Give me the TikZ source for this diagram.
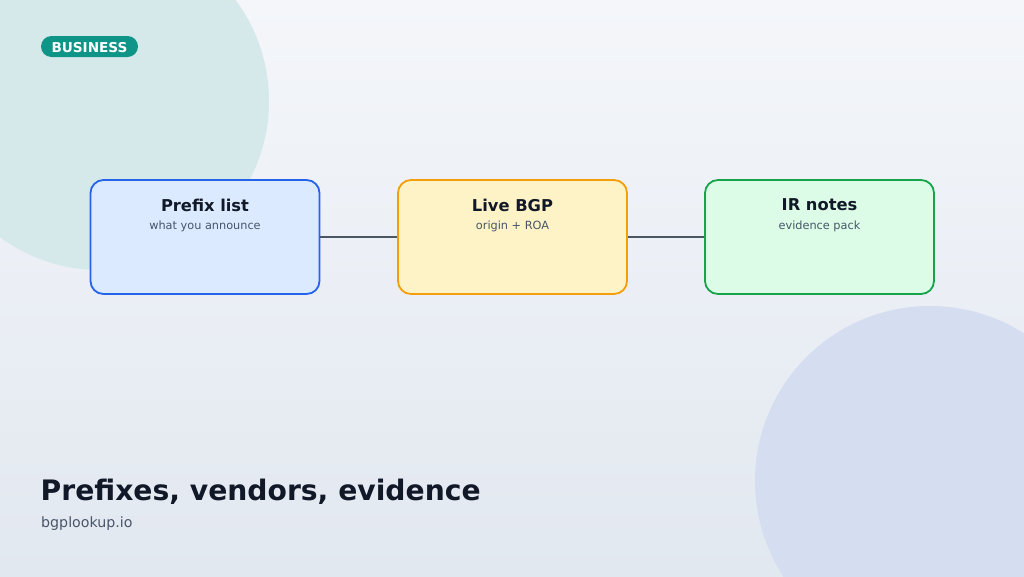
\documentclass[tikz,border=0pt]{standalone}
\usepackage{fontspec}
\setmainfont{DejaVu Sans}
\definecolor{bgtop}{HTML}{F4F6FA}
\definecolor{bgbot}{HTML}{E2E8F0}
\definecolor{circA}{HTML}{D5E8EA}
\definecolor{circB}{HTML}{D4DEF0}
\definecolor{teal}{HTML}{0F9488}
\definecolor{ink}{HTML}{111827}
\definecolor{muted}{HTML}{475569}
\definecolor{wire}{HTML}{4B5563}
\definecolor{blueF}{HTML}{DBEAFE}\definecolor{blueS}{HTML}{2563EB}
\definecolor{amberF}{HTML}{FEF3C7}\definecolor{amberS}{HTML}{F59E0B}
\definecolor{greenF}{HTML}{DCFCE7}\definecolor{greenS}{HTML}{16A34A}
\tikzset{
  card/.style={rounded corners=13pt, line width=1.8pt, minimum width=229pt, minimum height=114pt, inner sep=0pt},
  cardtitle/.style={font=\bfseries\fontsize{16.3}{19}\selectfont, text=ink},
  cardsub/.style={font=\fontsize{11.3}{13}\selectfont, text=muted},
  wireline/.style={draw=wire, line width=2.4pt}
}
\begin{document}
\begin{tikzpicture}[x=1pt,y=-1pt]
\useasboundingbox (0,0) rectangle (1024,576);
\shade[top color=bgtop, bottom color=bgbot] (0,0) rectangle (1024,576);
\begin{scope}
\clip (0,0) rectangle (1024,576);
\fill[circA] (100,101) circle (169);
\fill[circB] (930,481) circle (175);
\end{scope}
% badge
\node[fill=teal, rounded corners=10.5pt, minimum width=97pt, minimum height=21pt, inner sep=0pt] (badge) at (89.5,46.5) {};
\node[text=white, inner sep=0pt, font=\bfseries\fontsize{13.6}{15}\selectfont] (badgetext) at (89.5,48) {BUSINESS};
% cards
\node[card, draw=blueS, fill=blueF] (c1) at (205,237) {};
\node[card, draw=amberS, fill=amberF] (c2) at (512.5,237) {};
\node[card, draw=greenS, fill=greenF] (c3) at (819.5,237) {};
\draw[wireline] (c1.east) -- (c2.west);
\draw[wireline] (c2.east) -- (c3.west);
\node[cardtitle] (t1) at (205,205) {Prefix list};
\node[cardsub] (s1) at (205,226) {what you announce};
\node[cardtitle] (t2) at (512.5,205) {Live BGP};
\node[cardsub] (s2) at (512.5,226) {origin + ROA};
\node[cardtitle] (t3) at (819.5,205) {IR notes};
\node[cardsub] (s3) at (819.5,226) {evidence pack};
% footer
\node[anchor=west, inner sep=0pt, text=ink, font=\bfseries\fontsize{28.2}{32}\selectfont] (title) at (40.5,491.5) {Prefixes, vendors, evidence};
\node[anchor=west, inner sep=0pt, text=muted, font=\fontsize{14.2}{16}\selectfont] (url) at (41,524) {bgplookup.io};
\end{tikzpicture}
\end{document}
